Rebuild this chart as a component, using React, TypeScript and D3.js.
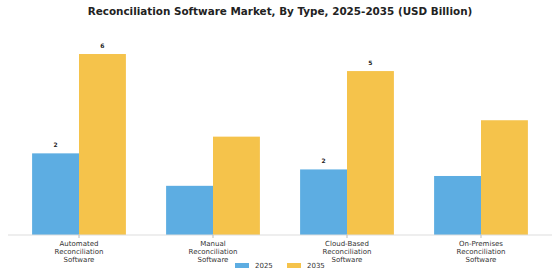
import React from "react";
import * as d3 from "d3";

const categories = [
  "Automated Reconciliation Software",
  "Manual Reconciliation Software",
  "Cloud-Based Reconciliation Software",
  "On-Premises Reconciliation Software",
];
const categoryLines = [
  ["Automated", "Reconciliation", "Software"],
  ["Manual", "Reconciliation", "Software"],
  ["Cloud-Based", "Reconciliation", "Software"],
  ["On-Premises", "Reconciliation", "Software"],
];
const seriesNames = ["2025", "2035"];
const values2025 = [2.49, 1.5, 2.0, 1.8];
const values2035 = [5.52, 3.0, 5.0, 3.5];
const labeledCategories = [
  "Automated Reconciliation Software",
  "Cloud-Based Reconciliation Software",
];
const colors = ["#5DADE2", "#F5C34B"];

const width = 560;
const height = 280;
const baseY = 235;
const font = "DejaVu Sans, sans-serif";

export default function App() {
  const series = [values2025, values2035];

  const x = d3
    .scaleBand<string>()
    .domain(categories)
    .range([12, 548])
    .paddingInner(0.3)
    .paddingOuter(0.15);

  const xInner = d3
    .scaleBand<string>()
    .domain(seriesNames)
    .range([0, x.bandwidth()]);

  const y = d3.scaleLinear().domain([0, 6.1]).range([baseY, 35]);

  return (
    <svg
      width={width}
      height={height}
      style={{ position: "absolute", left: 0, top: 0, background: "#fff" }}
      fontFamily={font}
    >
      <text
        x={width / 2}
        y={15}
        textAnchor="middle"
        fontSize={10.4}
        fontWeight="bold"
        fill="#222"
      >
        Reconciliation Software Market, By Type, 2025-2035 (USD Billion)
      </text>

      {categories.map((cat, i) => (
        <g key={cat} transform={`translate(${x(cat)},0)`}>
          {seriesNames.map((s, j) => {
            const v = series[j][i];
            const bx = xInner(s)!;
            const bw = xInner.bandwidth();
            return (
              <g key={s}>
                <rect
                  x={bx}
                  y={y(v)}
                  width={bw}
                  height={baseY - y(v)}
                  fill={colors[j]}
                />
                {labeledCategories.includes(cat) && (
                  <text
                    x={bx + bw / 2}
                    y={y(v) - 6}
                    textAnchor="middle"
                    fontSize={6}
                    fontWeight="bold"
                    fill="#222"
                  >
                    {d3.format(".0f")(v)}
                  </text>
                )}
              </g>
            );
          })}
        </g>
      ))}

      <line x1={8} x2={552} y1={baseY} y2={baseY} stroke="#ddd" strokeWidth={1} />

      {categories.map((cat, i) => {
        const cx = x(cat)! + x.bandwidth() / 2;
        return (
          <g key={cat}>
            <line x1={cx} x2={cx} y1={baseY} y2={baseY + 3} stroke="#bbb" />
            {categoryLines[i].map((ln, k) => (
              <text
                key={k}
                x={cx}
                y={245.5 + k * 8}
                textAnchor="middle"
                fontSize={7}
                fill="#333"
              >
                {ln}
              </text>
            ))}
          </g>
        );
      })}

      {seriesNames.map((s, j) => {
        const lx = [235, 287][j];
        return (
          <g key={s}>
            <rect x={lx} y={263} width={14} height={5} fill={colors[j]} />
            <text x={lx + 20} y={268} fontSize={7} fill="#333">
              {s}
            </text>
          </g>
        );
      })}
    </svg>
  );
}
